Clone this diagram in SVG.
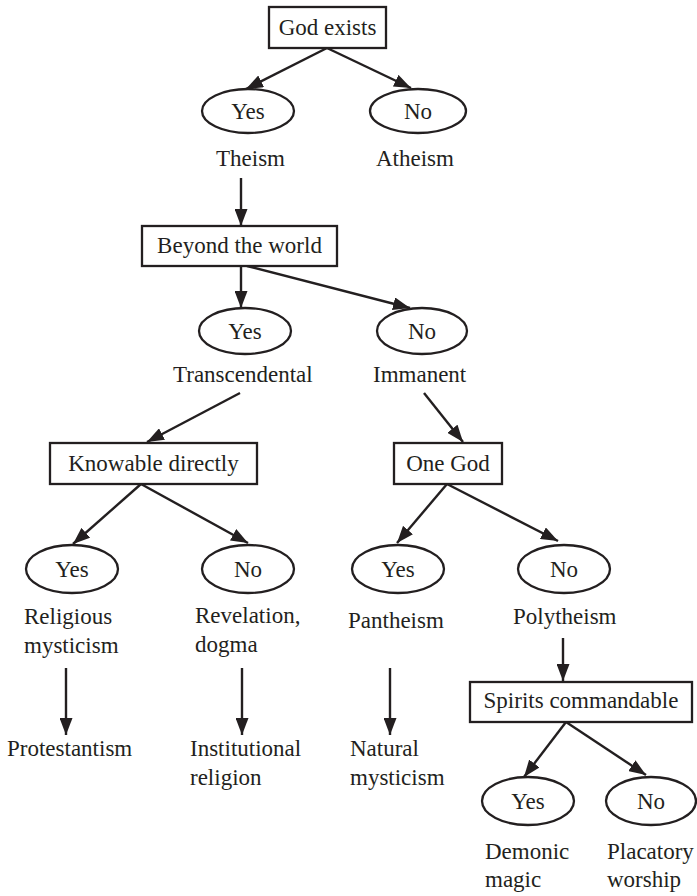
<svg xmlns="http://www.w3.org/2000/svg" width="697" height="896" viewBox="0 0 697 896">
<defs>
<marker id="ah" viewBox="0 0 17 13" refX="17" refY="6.5" markerWidth="17" markerHeight="13" markerUnits="userSpaceOnUse" orient="auto">
<path d="M0,0 L17,6.5 L0,13 Z" fill="#231f20"/>
</marker>
<style>
text{font-family:"Liberation Serif","DejaVu Serif",serif;font-size:23px;fill:#231f20}
.c{text-anchor:middle}
rect{fill:#fff;stroke:#231f20;stroke-width:2.3}
ellipse{fill:#fff;stroke:#231f20;stroke-width:2.3}
#connectors line{stroke:#231f20;stroke-width:2.4;marker-end:url(#ah)}
</style>
</defs>
<rect x="0" y="0" width="697" height="896" style="fill:#fff;stroke:none"/>
<g id="connectors">
<line x1="327" y1="48" x2="246" y2="89"/>
<line x1="327" y1="48" x2="411" y2="88"/>
<line x1="241" y1="178" x2="241" y2="226"/>
<line x1="241" y1="266" x2="241" y2="308"/>
<line x1="247" y1="266" x2="410" y2="308"/>
<line x1="240" y1="393" x2="147" y2="442"/>
<line x1="424" y1="393" x2="463" y2="442"/>
<line x1="141" y1="484" x2="73" y2="544"/>
<line x1="141" y1="484" x2="248" y2="543"/>
<line x1="447" y1="484" x2="397" y2="543"/>
<line x1="447" y1="484" x2="558" y2="541"/>
<line x1="66" y1="668" x2="66" y2="735"/>
<line x1="242" y1="668" x2="242" y2="735"/>
<line x1="390" y1="668" x2="390" y2="735"/>
<line x1="563" y1="638" x2="563" y2="681"/>
<line x1="566" y1="722" x2="524" y2="777"/>
<line x1="566" y1="722" x2="646" y2="775"/>
</g>
<g id="god-exists"><rect x="269" y="7" width="117" height="41"/><text class="c" x="327.5" y="35">God exists</text></g>
<g id="yes1"><ellipse cx="248" cy="111" rx="46" ry="22"/><text class="c" x="248" y="119">Yes</text></g>
<g id="no1"><ellipse cx="418" cy="111" rx="48" ry="22"/><text class="c" x="418" y="119">No</text></g>
<g id="theism"><text x="216" y="166">Theism</text></g>
<g id="atheism"><text x="376" y="166">Atheism</text></g>
<g id="beyond"><rect x="142" y="226" width="195" height="40"/><text class="c" x="239.5" y="253">Beyond the world</text></g>
<g id="yes2"><ellipse cx="245" cy="331" rx="46" ry="23"/><text class="c" x="245" y="339">Yes</text></g>
<g id="no2"><ellipse cx="422" cy="331" rx="45" ry="23"/><text class="c" x="422" y="339">No</text></g>
<g id="transcendental"><text x="173" y="382">Transcendental</text></g>
<g id="immanent"><text x="373" y="382">Immanent</text></g>
<g id="knowable"><rect x="50" y="443" width="207" height="41"/><text class="c" x="153.5" y="471">Knowable directly</text></g>
<g id="one-god"><rect x="394" y="443" width="108" height="41"/><text class="c" x="448" y="471">One God</text></g>
<g id="yes3"><ellipse cx="72" cy="569" rx="46" ry="24"/><text class="c" x="72" y="577">Yes</text></g>
<g id="no3"><ellipse cx="248" cy="569" rx="46" ry="24"/><text class="c" x="248" y="577">No</text></g>
<g id="yes4"><ellipse cx="398" cy="569" rx="46" ry="24"/><text class="c" x="398" y="577">Yes</text></g>
<g id="no4"><ellipse cx="564" cy="569" rx="46" ry="24"/><text class="c" x="564" y="577">No</text></g>
<g id="religious-mysticism"><text x="24" y="624">Religious</text><text x="24" y="653">mysticism</text></g>
<g id="revelation-dogma"><text x="195" y="623">Revelation,</text><text x="195" y="652">dogma</text></g>
<g id="pantheism"><text x="348" y="628">Pantheism</text></g>
<g id="polytheism"><text x="513" y="624">Polytheism</text></g>
<g id="protestantism"><text x="7" y="756">Protestantism</text></g>
<g id="institutional-religion"><text x="190" y="756">Institutional</text><text x="190" y="785">religion</text></g>
<g id="natural-mysticism"><text x="350" y="756">Natural</text><text x="350" y="785">mysticism</text></g>
<g id="spirits"><rect x="470" y="682" width="222" height="40"/><text class="c" x="581" y="708">Spirits commandable</text></g>
<g id="yes5"><ellipse cx="528" cy="801" rx="46" ry="24"/><text class="c" x="528" y="809">Yes</text></g>
<g id="no5"><ellipse cx="651" cy="801" rx="45" ry="24"/><text class="c" x="651" y="809">No</text></g>
<g id="demonic-magic"><text x="485" y="859">Demonic</text><text x="485" y="887">magic</text></g>
<g id="placatory-worship"><text x="607" y="859">Placatory</text><text x="607" y="887">worship</text></g>
</svg>
